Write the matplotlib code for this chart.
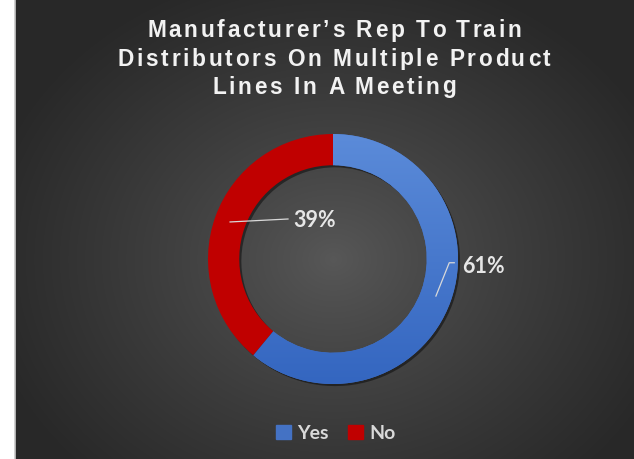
import numpy as np
import matplotlib
matplotlib.use("Agg")
import matplotlib.pyplot as plt
from matplotlib import patheffects
from matplotlib.lines import Line2D

# survey answers
labels = ["Yes", "No"]
shares = [61, 39]
colors = ["#4472C4", "#C00000"]
title_lines = ["Manufacturer\u2019s Rep To Train",
               "Distributors On Multiple Product",
               "Lines In A Meeting"]

fig = plt.figure(figsize=(6.34, 4.60), dpi=100, facecolor="white")
renderer = fig.canvas.get_renderer()

# dark radial background panel
bg = fig.add_axes([15 / 634, 0, 619 / 634, 1])
h, w = 460, 619
yy, xx = np.mgrid[0:h, 0:w]
r = np.sqrt(((xx - 318) / 360.0) ** 2 + ((yy - 260) / 300.0) ** 2)
r = np.clip(r, 0, 1)
center = np.array([0x58, 0x58, 0x58]) / 255.0
edge = np.array([0x28, 0x28, 0x28]) / 255.0
img = center[None, None, :] + (edge - center)[None, None, :] * (r ** 0.85)[:, :, None]
bg.imshow(img, aspect="auto", extent=(0, 1, 0, 1), origin="upper")
bg.axis("off")

fig.add_artist(Line2D([14.5 / 634, 14.5 / 634], [0, 1], color="#c8c8c8", lw=1.2,
                      transform=fig.transFigure))


def tracked_line(s, xc, yc, track, **kw):
    # draw a line of text with extra space between letters
    def width(t):
        if not t:
            return 0.0
        tmp = fig.text(0, 0, t, **kw)
        wd = tmp.get_window_extent(renderer).width
        tmp.remove()
        return wd
    total = width(s) + track * (len(s) - 1)
    x = xc - total / 2
    for i, ch in enumerate(s):
        if ch == " ":
            continue
        xi = x + width(s[:i]) + track * i
        fig.text(xi / 634, 1 - yc / 460, ch, ha="left", va="center", **kw)


title_kw = dict(color="#f2f2f2", fontsize=16.3, fontweight="bold", family="Liberation Sans")
for k, line in enumerate(title_lines):
    tracked_line(line, 334, 31 + 28 * k, 2.7, **title_kw)

# donut
ax = fig.add_axes([(333 - 125) / 634, (200 - 125) / 460, 250 / 634, 250 / 460])
ax.set_facecolor("none")
wedges, _ = ax.pie(shares, colors=colors, startangle=90, counterclock=False,
                   radius=1.0, wedgeprops=dict(width=0.25, linewidth=0))
for wdg in wedges:
    wdg.set_path_effects([patheffects.SimplePatchShadow(offset=(1.5, -1.5), shadow_rgbFace="black",
                                                        alpha=0.45),
                          patheffects.Normal()])

# soft vertical shading on the blue ring
grad = np.linspace(0, 1, 256)[:, None]
cmap = matplotlib.colors.LinearSegmentedColormap.from_list("blue", ["#5B8BD9", "#3466C0"])
im = ax.imshow(grad, cmap=cmap, extent=(-1, 1, -1, 1), origin="upper", aspect="auto", zorder=3)
im.set_clip_path(wedges[0])
ax.set_xlim(-1, 1)
ax.set_ylim(-1, 1)
ax.set_aspect("equal")
ax.axis("off")

# percent labels with leader lines
text_pos = {0: (1.2, -0.05), 1: (-0.145, 0.315)}
line_end = {0: [(0.93, -0.03), (0.97, -0.03)], 1: [(-0.36, 0.32)]}
for i, wdg in enumerate(wedges):
    mid = np.deg2rad((wdg.theta1 + wdg.theta2) / 2)
    x0, y0 = 0.875 * np.cos(mid), 0.875 * np.sin(mid)
    pts = [(x0, y0)] + line_end[i]
    ax.plot([p[0] for p in pts], [p[1] for p in pts], color="#d9d9d9", lw=0.9, zorder=5)
    ax.text(text_pos[i][0], text_pos[i][1], f"{shares[i]}%", ha="center", va="center",
            color="#e6e6e6", fontsize=15.5, fontweight="bold", family="Lato", zorder=6)

# legend
handles = [plt.Rectangle((0, 0), 1, 1, color=c) for c in colors]
fig.legend(handles, labels, loc="center", bbox_to_anchor=(336 / 634, 1 - 434 / 460), ncol=2,
           frameon=False, handlelength=0.75, handleheight=0.75, handletextpad=0.35,
           columnspacing=1.0, prop=dict(family="Lato", weight="bold", size=14),
           labelcolor="#d9d9d9")

fig.savefig("out.png", dpi=100, facecolor="white")
